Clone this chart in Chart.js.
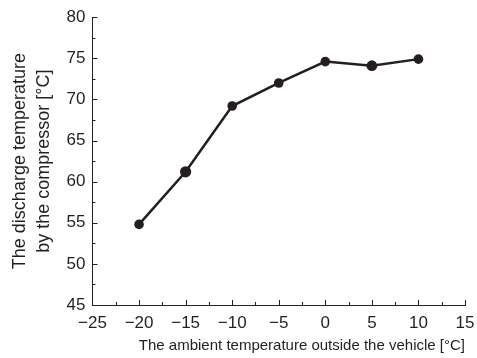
<!DOCTYPE html>
<html>
<head>
<meta charset="utf-8">
<script src="https://cdn.jsdelivr.net/npm/chart.js@4/dist/chart.umd.min.js"></script>
<style>
  html, body { margin: 0; padding: 0; background: #fff; }
  canvas { display: block; }
</style>
</head>
<body>
<canvas id="dischargeChart" width="477" height="358"></canvas>
<script>
// ambient temperature outside the vehicle [°C]
var ambientTemps = [-20, -15, -10, -5, 0, 5, 10];
// discharge temperature by the compressor [°C]
var dischargeTemps = [54.8, 61.2, 69.2, 72.0, 74.6, 74.1, 74.9];

var xTickValues = [-25, -20, -15, -10, -5, 0, 5, 10, 15];
var yTickValues = [45, 50, 55, 60, 65, 70, 75, 80];

var inkColor = '#231f20';

// draws the small inward ticks (major every 5, minor every 2.5)
var innerTicks = {
    id: 'innerTicks',
    afterDraw: function(chart) {
        var ctx = chart.ctx;
        var xs = chart.scales.x;
        var ys = chart.scales.y;
        ctx.save();
        ctx.strokeStyle = inkColor;
        ctx.lineWidth = 1;
        ctx.beginPath();
        for (var v = xs.min; v <= xs.max + 0.01; v += 2.5) {
            var px = Math.round(xs.getPixelForValue(v)) + 0.5;
            var len = (v % 5 === 0) ? 5 : 3;
            ctx.moveTo(px, ys.bottom);
            ctx.lineTo(px, ys.bottom - len);
        }
        for (var w = ys.min; w <= ys.max + 0.01; w += 2.5) {
            var py = Math.round(ys.getPixelForValue(w)) + 0.5;
            var len2 = (w % 5 === 0) ? 5 : 3;
            ctx.moveTo(xs.left, py);
            ctx.lineTo(xs.left + len2, py);
        }
        ctx.stroke();
        ctx.restore();
    }
};

function minusSign(value) {
    return String(value).replace('-', '\u2212');
}

var points = ambientTemps.map(function(t, i) {
    return { x: t, y: dischargeTemps[i] };
});

new Chart(document.getElementById('dischargeChart'), {
    type: 'scatter',
    data: {
        datasets: [{
            data: points,
            showLine: true,
            borderColor: inkColor,
            backgroundColor: inkColor,
            borderWidth: 2.5,
            pointRadius: [4.8, 5.6, 4.8, 4.8, 4.8, 5.4, 4.8],
            pointBorderWidth: 0
        }]
    },
    plugins: [innerTicks],
    options: {
        responsive: false,
        animation: false,
        layout: { autoPadding: false, padding: { top: 15, right: 12, left: 9, bottom: 3 } },
        plugins: {
            legend: { display: false },
            tooltip: { enabled: false }
        },
        scales: {
            x: {
                type: 'linear',
                min: xTickValues[0],
                max: xTickValues[xTickValues.length - 1],
                afterBuildTicks: function(scale) {
                    scale.ticks = xTickValues.map(function(v) { return { value: v }; });
                },
                // invisible tick marks only to push the labels down
                grid: { display: true, drawOnChartArea: false, drawTicks: true, tickLength: 8, tickColor: 'rgba(0,0,0,0)' },
                border: { display: true, color: inkColor, width: 1 },
                ticks: {
                    color: inkColor,
                    padding: 2,
                    maxRotation: 0,
                    font: { family: 'Liberation Sans', size: 17, lineHeight: 1.0 },
                    callback: minusSign
                },
                title: {
                    display: true,
                    text: 'The ambient temperature outside the vehicle [°C]',
                    align: 'end',
                    color: inkColor,
                    font: { family: 'Liberation Sans', size: 15 },
                    padding: { top: 3, bottom: 0 }
                }
            },
            y: {
                type: 'linear',
                min: yTickValues[0],
                max: yTickValues[yTickValues.length - 1],
                afterBuildTicks: function(scale) {
                    scale.ticks = yTickValues.map(function(v) { return { value: v }; });
                },
                grid: { display: true, drawOnChartArea: false, drawTicks: false },
                border: { display: true, color: inkColor, width: 1 },
                ticks: {
                    color: inkColor,
                    padding: 7,
                    font: { family: 'Liberation Sans', size: 17 }
                },
                title: {
                    display: true,
                    text: ['The discharge temperature', 'by the compressor [°C]'],
                    color: inkColor,
                    font: { family: 'Liberation Sans', size: 18, lineHeight: 1.28 },
                    padding: { top: 0, bottom: 4.5 }
                }
            }
        }
    }
});
</script>
</body>
</html>
